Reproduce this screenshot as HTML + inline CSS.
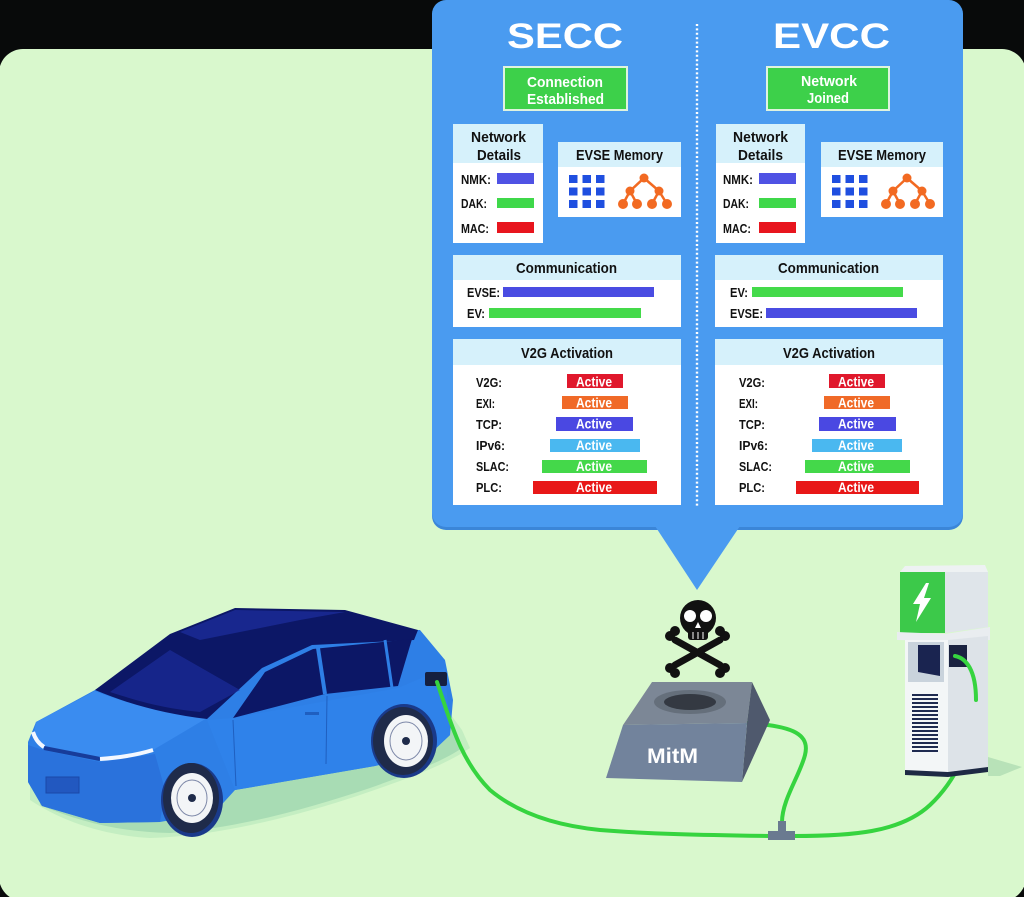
<!DOCTYPE html>
<html><head><meta charset="utf-8"><style>
html,body{margin:0;padding:0;background:#080a0a;}
svg{display:block;}
text{font-family:"Liberation Sans",Arial,sans-serif;font-weight:bold;}
</style></head><body>
<svg width="1024" height="897" viewBox="0 0 1024 897" xmlns="http://www.w3.org/2000/svg">
<rect x="0" y="0" width="1024" height="897" fill="#080a0a"/>
<rect x="-1" y="49" width="1027" height="852" rx="24" fill="#d9f8cd"/>

<!-- Panel -->
<rect x="432" y="2" width="531" height="528" rx="14" fill="#3b86d8"/>
<rect x="432" y="0" width="531" height="527" rx="14" fill="#4a9bf0"/>
<polygon points="655,526 740,526 697,590" fill="#4a9bf0"/>
<line x1="697" y1="24" x2="697" y2="506" stroke="#ffffff" stroke-width="2.4" stroke-dasharray="2 2.4"/>

<!-- SECC side -->
<text x="507" y="48" font-size="35" fill="#fff" textLength="116" lengthAdjust="spacingAndGlyphs">SECC</text>
<rect x="504" y="67" width="123" height="43" fill="#3dd04a" stroke="#dff3df" stroke-width="2"/>
<text x="527" y="87" font-size="15" fill="#fff" textLength="76" lengthAdjust="spacingAndGlyphs" font-weight="normal">Connection</text>
<text x="527" y="104" font-size="15" fill="#fff" textLength="77" lengthAdjust="spacingAndGlyphs" font-weight="normal">Established</text>

<rect x="453" y="124" width="90" height="119" fill="#ffffff"/>
<rect x="453" y="124" width="90" height="39" fill="#d6f1fb"/>
<text x="471" y="142" font-size="15" fill="#111" textLength="55" lengthAdjust="spacingAndGlyphs">Network</text>
<text x="477" y="160" font-size="15" fill="#111" textLength="44" lengthAdjust="spacingAndGlyphs">Details</text>
<text x="461" y="184" font-size="13" fill="#111" textLength="30" lengthAdjust="spacingAndGlyphs">NMK:</text>
<text x="461" y="208" font-size="13" fill="#111" textLength="26" lengthAdjust="spacingAndGlyphs">DAK:</text>
<text x="461" y="233" font-size="13" fill="#111" textLength="28" lengthAdjust="spacingAndGlyphs">MAC:</text>
<rect x="497" y="173" width="37" height="11" fill="#4f52e4"/>
<rect x="497" y="198" width="37" height="10" fill="#3fd84a"/>
<rect x="497" y="222" width="37" height="11" fill="#e8151e"/>

<rect x="558" y="142" width="123" height="75" fill="#ffffff"/>
<rect x="558" y="142" width="123" height="25" fill="#d6f1fb"/>
<text x="576" y="160" font-size="15" fill="#111" textLength="87" lengthAdjust="spacingAndGlyphs">EVSE Memory</text>
<g fill="#1f4fe0">
<rect x="569" y="175" width="8.5" height="8"/><rect x="582.5" y="175" width="8.5" height="8"/><rect x="596" y="175" width="8.5" height="8"/>
<rect x="569" y="187.5" width="8.5" height="8"/><rect x="582.5" y="187.5" width="8.5" height="8"/><rect x="596" y="187.5" width="8.5" height="8"/>
<rect x="569" y="200" width="8.5" height="8"/><rect x="582.5" y="200" width="8.5" height="8"/><rect x="596" y="200" width="8.5" height="8"/>
</g>
<g stroke="#f26a22" stroke-width="2.5" fill="#f26a22">
<line x1="644" y1="178" x2="630" y2="191"/><line x1="644" y1="178" x2="659" y2="191"/>
<line x1="630" y1="191" x2="623" y2="204"/><line x1="630" y1="191" x2="637" y2="204"/>
<line x1="659" y1="191" x2="652" y2="204"/><line x1="659" y1="191" x2="667" y2="204"/>
<circle cx="644" cy="178" r="4.5" stroke="none"/><circle cx="630" cy="191" r="4.5" stroke="none"/><circle cx="659" cy="191" r="4.5" stroke="none"/>
<circle cx="623" cy="204" r="5" stroke="none"/><circle cx="637" cy="204" r="5" stroke="none"/><circle cx="652" cy="204" r="5" stroke="none"/><circle cx="667" cy="204" r="5" stroke="none"/>
</g>

<rect x="453" y="255" width="228" height="72" fill="#ffffff"/>
<rect x="453" y="255" width="228" height="25" fill="#d6f1fb"/>
<text x="516" y="273" font-size="15" fill="#111" textLength="101" lengthAdjust="spacingAndGlyphs">Communication</text>
<text x="467" y="297" font-size="13" fill="#111" textLength="33" lengthAdjust="spacingAndGlyphs">EVSE:</text>
<rect x="503" y="287" width="151" height="10" fill="#4a4ce2"/>
<text x="467" y="318" font-size="13" fill="#111" textLength="18" lengthAdjust="spacingAndGlyphs">EV:</text>
<rect x="489" y="308" width="152" height="10" fill="#44da4a"/>

<rect x="453" y="339" width="228" height="166" fill="#ffffff"/>
<rect x="453" y="339" width="228" height="26" fill="#d6f1fb"/>
<text x="521" y="358" font-size="15" fill="#111" textLength="92" lengthAdjust="spacingAndGlyphs">V2G Activation</text>
<g font-size="13" fill="#111">
<text x="476" y="387" textLength="26" lengthAdjust="spacingAndGlyphs">V2G:</text>
<text x="476" y="408" textLength="19" lengthAdjust="spacingAndGlyphs">EXI:</text>
<text x="476" y="429" textLength="26" lengthAdjust="spacingAndGlyphs">TCP:</text>
<text x="476" y="450" textLength="29" lengthAdjust="spacingAndGlyphs">IPv6:</text>
<text x="476" y="471" textLength="33" lengthAdjust="spacingAndGlyphs">SLAC:</text>
<text x="476" y="492" textLength="26" lengthAdjust="spacingAndGlyphs">PLC:</text>
</g>
<rect x="567" y="374" width="56" height="14" fill="#e0182c"/>
<rect x="562" y="396" width="66" height="13" fill="#f06a28"/>
<rect x="556" y="417" width="77" height="14" fill="#4a48e2"/>
<rect x="550" y="439" width="90" height="13" fill="#4ab8f0"/>
<rect x="542" y="460" width="105" height="13" fill="#44d84a"/>
<rect x="533" y="481" width="124" height="13" fill="#e81818"/>
<g font-size="14" fill="#fff" font-weight="normal">
<text x="576" y="386.5" textLength="36" lengthAdjust="spacingAndGlyphs">Active</text>
<text x="576" y="407.5" textLength="36" lengthAdjust="spacingAndGlyphs">Active</text>
<text x="576" y="428.5" textLength="36" lengthAdjust="spacingAndGlyphs">Active</text>
<text x="576" y="450" textLength="36" lengthAdjust="spacingAndGlyphs">Active</text>
<text x="576" y="471" textLength="36" lengthAdjust="spacingAndGlyphs">Active</text>
<text x="576" y="492" textLength="36" lengthAdjust="spacingAndGlyphs">Active</text>
</g>

<!-- EVCC side -->
<text x="773" y="48" font-size="35" fill="#fff" textLength="117" lengthAdjust="spacingAndGlyphs">EVCC</text>
<rect x="767" y="67" width="122" height="43" fill="#3dd04a" stroke="#dff3df" stroke-width="2"/>
<text x="801" y="86" font-size="15" fill="#fff" textLength="56" lengthAdjust="spacingAndGlyphs" font-weight="normal">Network</text>
<text x="807" y="103" font-size="15" fill="#fff" textLength="42" lengthAdjust="spacingAndGlyphs" font-weight="normal">Joined</text>

<rect x="716" y="124" width="89" height="119" fill="#ffffff"/>
<rect x="716" y="124" width="89" height="39" fill="#d6f1fb"/>
<text x="733" y="142" font-size="15" fill="#111" textLength="55" lengthAdjust="spacingAndGlyphs">Network</text>
<text x="738" y="160" font-size="15" fill="#111" textLength="45" lengthAdjust="spacingAndGlyphs">Details</text>
<text x="723" y="184" font-size="13" fill="#111" textLength="30" lengthAdjust="spacingAndGlyphs">NMK:</text>
<text x="723" y="208" font-size="13" fill="#111" textLength="26" lengthAdjust="spacingAndGlyphs">DAK:</text>
<text x="723" y="233" font-size="13" fill="#111" textLength="28" lengthAdjust="spacingAndGlyphs">MAC:</text>
<rect x="759" y="173" width="37" height="11" fill="#4f52e4"/>
<rect x="759" y="198" width="37" height="10" fill="#3fd84a"/>
<rect x="759" y="222" width="37" height="11" fill="#e8151e"/>

<rect x="821" y="142" width="122" height="75" fill="#ffffff"/>
<rect x="821" y="142" width="122" height="25" fill="#d6f1fb"/>
<text x="838" y="160" font-size="15" fill="#111" textLength="88" lengthAdjust="spacingAndGlyphs">EVSE Memory</text>
<g fill="#1f4fe0">
<rect x="832" y="175" width="8.5" height="8"/><rect x="845.5" y="175" width="8.5" height="8"/><rect x="859" y="175" width="8.5" height="8"/>
<rect x="832" y="187.5" width="8.5" height="8"/><rect x="845.5" y="187.5" width="8.5" height="8"/><rect x="859" y="187.5" width="8.5" height="8"/>
<rect x="832" y="200" width="8.5" height="8"/><rect x="845.5" y="200" width="8.5" height="8"/><rect x="859" y="200" width="8.5" height="8"/>
</g>
<g stroke="#f26a22" stroke-width="2.5" fill="#f26a22" transform="translate(263,0)">
<line x1="644" y1="178" x2="630" y2="191"/><line x1="644" y1="178" x2="659" y2="191"/>
<line x1="630" y1="191" x2="623" y2="204"/><line x1="630" y1="191" x2="637" y2="204"/>
<line x1="659" y1="191" x2="652" y2="204"/><line x1="659" y1="191" x2="667" y2="204"/>
<circle cx="644" cy="178" r="4.5" stroke="none"/><circle cx="630" cy="191" r="4.5" stroke="none"/><circle cx="659" cy="191" r="4.5" stroke="none"/>
<circle cx="623" cy="204" r="5" stroke="none"/><circle cx="637" cy="204" r="5" stroke="none"/><circle cx="652" cy="204" r="5" stroke="none"/><circle cx="667" cy="204" r="5" stroke="none"/>
</g>

<rect x="715" y="255" width="228" height="72" fill="#ffffff"/>
<rect x="715" y="255" width="228" height="25" fill="#d6f1fb"/>
<text x="778" y="273" font-size="15" fill="#111" textLength="101" lengthAdjust="spacingAndGlyphs">Communication</text>
<text x="730" y="297" font-size="13" fill="#111" textLength="18" lengthAdjust="spacingAndGlyphs">EV:</text>
<rect x="752" y="287" width="151" height="10" fill="#44da4a"/>
<text x="730" y="318" font-size="13" fill="#111" textLength="33" lengthAdjust="spacingAndGlyphs">EVSE:</text>
<rect x="766" y="308" width="151" height="10" fill="#4a4ce2"/>

<rect x="715" y="339" width="228" height="166" fill="#ffffff"/>
<rect x="715" y="339" width="228" height="26" fill="#d6f1fb"/>
<text x="783" y="358" font-size="15" fill="#111" textLength="92" lengthAdjust="spacingAndGlyphs">V2G Activation</text>
<g font-size="13" fill="#111">
<text x="739" y="387" textLength="26" lengthAdjust="spacingAndGlyphs">V2G:</text>
<text x="739" y="408" textLength="19" lengthAdjust="spacingAndGlyphs">EXI:</text>
<text x="739" y="429" textLength="26" lengthAdjust="spacingAndGlyphs">TCP:</text>
<text x="739" y="450" textLength="29" lengthAdjust="spacingAndGlyphs">IPv6:</text>
<text x="739" y="471" textLength="33" lengthAdjust="spacingAndGlyphs">SLAC:</text>
<text x="739" y="492" textLength="26" lengthAdjust="spacingAndGlyphs">PLC:</text>
</g>
<rect x="829" y="374" width="56" height="14" fill="#e0182c"/>
<rect x="824" y="396" width="66" height="13" fill="#f06a28"/>
<rect x="819" y="417" width="77" height="14" fill="#4a48e2"/>
<rect x="812" y="439" width="90" height="13" fill="#4ab8f0"/>
<rect x="805" y="460" width="105" height="13" fill="#44d84a"/>
<rect x="796" y="481" width="123" height="13" fill="#e81818"/>
<g font-size="14" fill="#fff" font-weight="normal">
<text x="838" y="386.5" textLength="36" lengthAdjust="spacingAndGlyphs">Active</text>
<text x="838" y="407.5" textLength="36" lengthAdjust="spacingAndGlyphs">Active</text>
<text x="838" y="428.5" textLength="36" lengthAdjust="spacingAndGlyphs">Active</text>
<text x="838" y="450" textLength="36" lengthAdjust="spacingAndGlyphs">Active</text>
<text x="838" y="471" textLength="36" lengthAdjust="spacingAndGlyphs">Active</text>
<text x="838" y="492" textLength="36" lengthAdjust="spacingAndGlyphs">Active</text>
</g>

<!-- Car shadow -->
<path d="M30,800 C60,820 100,835 150,838 C220,836 300,815 360,795 C410,778 445,765 470,748 L462,730 L440,700 L30,770 Z" fill="#c4eec2"/>
<path d="M40,805 C80,822 120,832 170,833 C240,828 310,808 370,788 C415,772 445,760 462,748 L452,725 L40,780 Z" fill="#a8dcb4"/>

<!-- Car body -->
<path d="M28,742 L36,722 L95,690 L180,632 L420,630 L445,660 L453,700 L450,735 L432,752 L375,766 L235,790 L215,812 L160,822 L100,823 L42,806 L28,782 Z" fill="#2e7fe6"/>
<path d="M36,722 L95,691 C130,705 170,714 207,718 L170,740 L153,750 L100,758 L43,747 L34,733 Z" fill="#3a8cf0"/>
<path d="M28,745 L43,750 L100,762 L155,754 L165,790 L160,822 L100,823 L42,806 L28,782 Z" fill="#2a72dc"/>
<path d="M207,720 L233,718 L398,688 L445,668 L450,735 L432,752 L375,766 L235,790 Z" fill="#2f82ea"/>
<path d="M95,690 L170,634 L235,608 L345,610 L418,630 L414,640 L312,645 L262,668 L207,719 C165,714 128,704 95,690 Z" fill="#0c1766"/>
<path d="M110,692 L170,650 L240,690 L200,712 C160,708 135,700 110,692 Z" fill="#1b2c9a" opacity="0.7"/>
<path d="M180,632 L235,610 L345,612 L300,620 L200,640 Z" fill="#1e2fa0" opacity="0.7"/>
<path d="M233,718 L265,672 L313,649 L412,639 L398,686 L325,694 Z" fill="#0c1766"/>
<line x1="318" y1="648" x2="325" y2="694" stroke="#2e7fe6" stroke-width="4"/>
<line x1="385" y1="640" x2="392" y2="688" stroke="#2e7fe6" stroke-width="3"/>
<line x1="327" y1="696" x2="326" y2="764" stroke="#1f5fc0" stroke-width="1"/>
<line x1="233" y1="720" x2="236" y2="786" stroke="#1f5fc0" stroke-width="1"/>
<rect x="305" y="712" width="14" height="3" fill="#1f5fc0"/>
<path d="M33,732 Q36,742 44,747" stroke="#f4f8ff" stroke-width="4" fill="none"/>
<path d="M44,748 L100,759" stroke="#173c9a" stroke-width="4"/>
<path d="M100,759 Q130,757 153,750" stroke="#f4f8ff" stroke-width="4" fill="none"/>
<rect x="46" y="777" width="33" height="16" fill="#2258c0" stroke="#1a48a8" stroke-width="1"/>
<rect x="425" y="672" width="22" height="14" rx="2" fill="#152040"/>
<ellipse cx="192" cy="800" rx="31" ry="37" fill="#1a3a8a"/>
<ellipse cx="191" cy="798" rx="28" ry="35" fill="#1f2b4a"/>
<ellipse cx="192" cy="798" rx="21" ry="25" fill="#f3f5f7"/>
<ellipse cx="192" cy="798" rx="15" ry="18" fill="none" stroke="#7d88a8" stroke-width="1"/>
<circle cx="192" cy="798" r="4" fill="#1f2b4a"/>
<ellipse cx="404" cy="741" rx="33" ry="37" fill="#1a3a8a"/>
<ellipse cx="403" cy="741" rx="30" ry="34" fill="#1f2b4a"/>
<ellipse cx="406" cy="741" rx="22" ry="26" fill="#f3f5f7"/>
<ellipse cx="406" cy="741" rx="16" ry="19" fill="none" stroke="#7d88a8" stroke-width="1"/>
<circle cx="406" cy="741" r="4" fill="#1f2b4a"/>

<!-- cables -->
<g fill="none" stroke="#36d43f" stroke-width="4" stroke-linecap="round">
<path d="M437,682 C450,720 460,760 490,790 C520,815 560,826 600,830 C650,834 700,835 770,836"/>
<path d="M794,836 C850,836 900,833 930,805 C962,775 976,730 976,700 C976,670 966,658 955,656"/>
<path d="M782,822 C782,800 800,775 805,755 C810,735 795,726 747,723"/>
</g>
<rect x="768" y="831" width="27" height="9" fill="#6a7a90"/>
<rect x="778" y="821" width="8" height="11" fill="#6a7a90"/>

<!-- MitM box -->
<polygon points="652,682 752,682 747,723 623,725" fill="#7c8796"/>
<ellipse cx="690" cy="702" rx="36" ry="12" fill="#3b414a" opacity="0.35"/>
<ellipse cx="690" cy="702" rx="26" ry="8" fill="#2b3038" opacity="0.85"/>
<polygon points="752,682 770,720 742,782 747,723" fill="#4f596d"/>
<polygon points="623,725 747,723 742,782 606,778" fill="#72839c"/>
<text x="647" y="763" font-size="21" fill="#fff" textLength="51" lengthAdjust="spacingAndGlyphs">MitM</text>

<!-- Skull -->
<g fill="#111">
<g stroke="#111" stroke-width="7" stroke-linecap="round">
<line x1="675" y1="640" x2="720" y2="665"/>
<line x1="720" y1="640" x2="675" y2="665"/>
</g>
<circle cx="670" cy="636" r="5"/><circle cx="675" cy="631" r="5"/>
<circle cx="725" cy="636" r="5"/><circle cx="720" cy="631" r="5"/>
<circle cx="670" cy="668" r="5"/><circle cx="675" cy="673" r="5"/>
<circle cx="725" cy="668" r="5"/><circle cx="720" cy="673" r="5"/>
<circle cx="698" cy="618" r="18"/>
<rect x="688" y="626" width="20" height="14" rx="3"/>
</g>
<circle cx="690" cy="616" r="6" fill="#fff"/>
<circle cx="706" cy="616" r="6" fill="#fff"/>
<polygon points="698,622 695,628 701,628" fill="#fff"/>
<g stroke="#fff" stroke-width="1">
<line x1="693" y1="632" x2="693" y2="639"/><line x1="698" y1="632" x2="698" y2="639"/><line x1="703" y1="632" x2="703" y2="639"/>
</g>

<!-- Charger -->
<polygon points="988,757 1022,767 1000,776 988,776" fill="#b8e2b8"/>
<polygon points="900,572 905,566 985,565 988,572" fill="#eef2f3"/>
<rect x="900" y="572" width="45" height="61" fill="#3cc94a"/>
<polygon points="945,572 988,572 988,627 945,633" fill="#dfe5ea"/>
<polygon points="926,583 913,604 920,604 916,622 931,598 924,598 929,583" fill="#fff"/>
<polygon points="897,632 945,634 990,627 990,640 945,641 897,640" fill="#e9edf0"/>
<rect x="905" y="640" width="43" height="132" fill="#f3f6f7"/>
<polygon points="948,640 988,636 988,768 948,772" fill="#dde3e8"/>
<rect x="908" y="642" width="36" height="40" fill="#c9d3dc"/>
<polygon points="918,645 940,645 940,676 918,672" fill="#1a2450"/>
<rect x="949" y="645" width="18" height="22" fill="#1a2240"/>
<g stroke="#1e2a50" stroke-width="2">
<line x1="912" y1="695" x2="938" y2="695"/><line x1="912" y1="699" x2="938" y2="699"/><line x1="912" y1="703" x2="938" y2="703"/>
<line x1="912" y1="707" x2="938" y2="707"/><line x1="912" y1="711" x2="938" y2="711"/><line x1="912" y1="715" x2="938" y2="715"/>
<line x1="912" y1="719" x2="938" y2="719"/><line x1="912" y1="723" x2="938" y2="723"/><line x1="912" y1="727" x2="938" y2="727"/>
<line x1="912" y1="731" x2="938" y2="731"/><line x1="912" y1="735" x2="938" y2="735"/><line x1="912" y1="739" x2="938" y2="739"/>
<line x1="912" y1="743" x2="938" y2="743"/><line x1="912" y1="747" x2="938" y2="747"/><line x1="912" y1="751" x2="938" y2="751"/>
</g>
<polygon points="905,770 948,772 988,767 988,772 948,777 905,775" fill="#1e2a44"/>
<path d="M955,656 C966,658 976,670 976,700" fill="none" stroke="#36d43f" stroke-width="4" stroke-linecap="round"/>
</svg>
</body></html>
